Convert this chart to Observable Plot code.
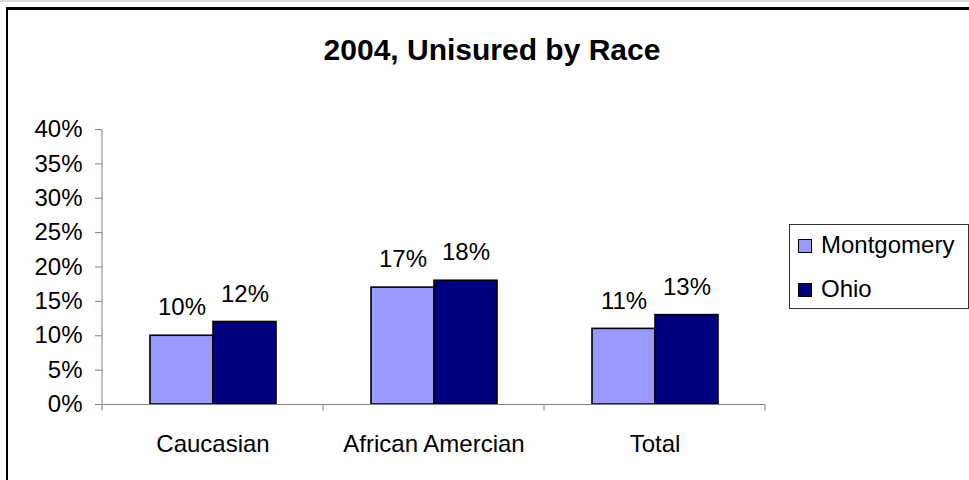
<!DOCTYPE html>
<html>
<head>
<meta charset="utf-8">
<script src="https://cdn.jsdelivr.net/npm/d3@7"></script>
<script src="https://cdn.jsdelivr.net/npm/@observablehq/plot@0.6"></script>
<style>
  html, body { margin: 0; padding: 0; background: #fff; }
  #wrap { position: relative; width: 969px; height: 480px; overflow: hidden; background: #fff;
          font-family: "Liberation Sans", Arial, sans-serif; }
  #topline { position: absolute; left: 0; top: 0; width: 969px; height: 2px; background: #dcdcdc; }
  #frame { position: absolute; left: 6px; top: 7px; width: 1100px; height: 1100px;
           border-left: 2px solid #000; border-top: 3px solid #000; }
  #title { position: relative; box-sizing: border-box; height: 100px; padding-top: 33px;
           width: 984px; text-align: center; font-weight: bold; font-size: 30px; line-height: 34px; color: #000; }
  #chart { position: relative; }
  #legend { position: absolute; left: 789px; top: 224px; width: 180px; height: 85px; box-sizing: border-box;
            border: 1px solid #333; background: #fff; }
  .item { position: absolute; left: 8px; height: 30px; font-size: 24px; line-height: 30px; color: #000; white-space: nowrap; }
  .sw { position: absolute; left: 0; top: 9px; width: 12px; height: 12px; border: 1px solid #000; }
  .lab { position: absolute; left: 23px; top: 0; }
</style>
</head>
<body>
<div id="wrap">
  <div id="topline"></div>
  <div id="frame"></div>
  <div id="title">2004, Unisured by Race</div>
  <div id="chart"></div>
  <div id="legend"></div>
</div>
<script>
const categories = ["Caucasian", "African Amercian", "Total"];
const series = ["Montgomery", "Ohio"];
const montgomery = [0.10, 0.17, 0.11];
const ohio = [0.12, 0.18, 0.13];
const colors = ["#9999FF", "#000080"];
const yTicks = [0, 0.05, 0.10, 0.15, 0.20, 0.25, 0.30, 0.35, 0.40];
const yMax = 0.40;

const rows = [];
categories.forEach((c, i) => {
  rows.push({category: c, series: series[0], value: montgomery[i]});
  rows.push({category: c, series: series[1], value: ohio[i]});
});

const decor = Plot.ruleY(categories, {
  fx: d => d,
  y: () => 0,
  stroke: "#808080",
  strokeWidth: 1,
  render(index, scales, values, dimensions, context, next) {
    const g = next(index, scales, values, dimensions, context);
    const i = index[0];
    const [r0, r1] = scales.x.range();
    const y0 = scales.y(0);
    const yTop = scales.y(yMax);
    const sel = d3.select(g);
    const line = (x1, y1, x2, y2) => sel.append("line")
      .attr("x1", x1).attr("y1", y1).attr("x2", x2).attr("y2", y2)
      .attr("stroke", "#808080").attr("stroke-width", 1);
    line(r0, y0, r0, y0 + 6);
    if (i === categories.length - 1) line(r1, y0, r1, y0 + 6);
    if (i === 0) line(r0, yTop, r0, y0);
    return g;
  }
});

const chart = Plot.plot({
  width: 969,
  height: 380,
  marginLeft: 102,
  marginRight: 204,
  marginTop: 29,
  marginBottom: 76,
  style: {fontFamily: "'Liberation Sans', Arial, sans-serif", fontSize: "24px", color: "#000", background: "transparent", overflow: "visible"},
  fx: {domain: categories, padding: 0, label: null},
  x: {domain: series, paddingInner: 0, paddingOuter: 0.7266, axis: null},
  y: {domain: [0, yMax], label: null},
  color: {domain: series, range: colors},
  marks: [
    Plot.barY(rows, {fx: "category", x: "series", y: "value", fill: "series", stroke: "#000", strokeWidth: 1.6}),
    decor,
    Plot.axisY(yTicks, {tickSize: 7, tickPadding: 13, tickFormat: d3.format(".0%"), stroke: "#808080", fill: "#000", fontSize: 24, label: null}),
    Plot.axisFx({anchor: "bottom", tickSize: 0, tickPadding: 30, fontSize: 24, fill: "#000", label: null}),
    Plot.text(rows, {fx: "category", x: "series", y: "value", text: d => d3.format(".0%")(d.value), dy: -28, fontSize: 24, fill: "#000"})
  ]
});
document.getElementById("chart").appendChild(chart);

const legend = d3.select("#legend");
series.forEach((s, i) => {
  const item = legend.append("div").attr("class", "item").style("top", (5 + i * 44) + "px");
  item.append("div").attr("class", "sw").style("background", colors[i]);
  item.append("div").attr("class", "lab").text(s);
});
</script>
</body>
</html>
